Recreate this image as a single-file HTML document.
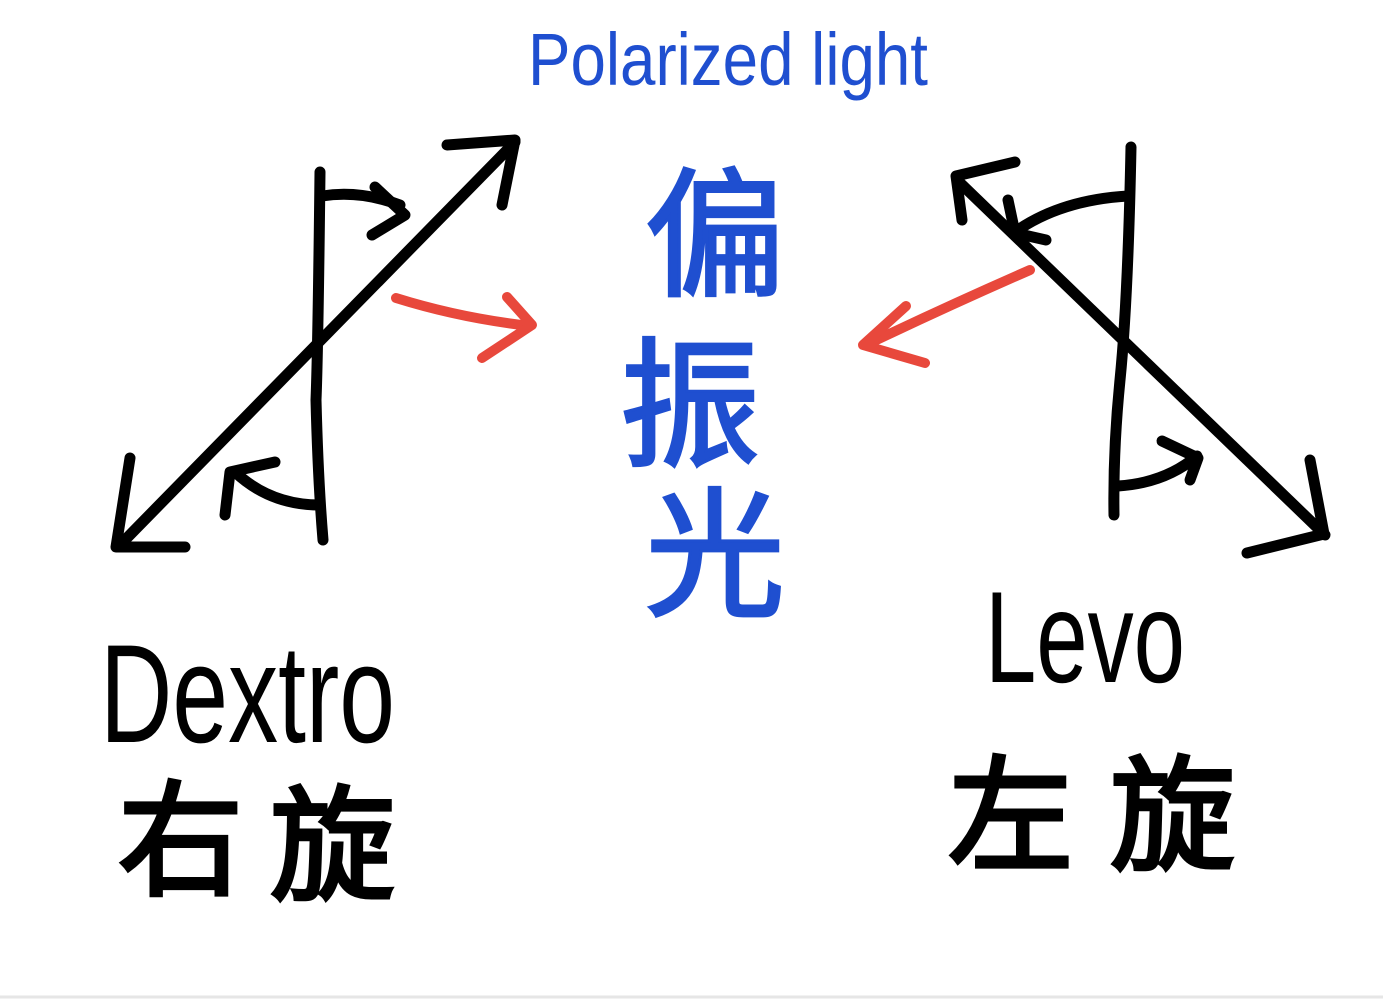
<!DOCTYPE html>
<html><head><meta charset="utf-8"><style>
html,body{margin:0;padding:0;background:#fff;width:1383px;height:1001px;overflow:hidden}
svg{display:block}
</style></head><body>
<svg width="1383" height="1001" viewBox="0 0 1383 1001" xmlns="http://www.w3.org/2000/svg">
<rect width="1383" height="1001" fill="#fff"/>
<line x1="0" y1="997" x2="1383" y2="997" stroke="#e6e6e6" stroke-width="3"/>
<g fill="none" stroke="#000" stroke-width="11" stroke-linecap="round" stroke-linejoin="round">
 <path d="M320 172 Q318 350 316 400 Q318 480 323 540"/>
 <path d="M120 545 L515 142"/>
 <path d="M447 145 L515 140 L502 205"/>
 <path d="M130 458 L116 547 L185 547"/>
 <path d="M322 196 Q360 190 400 205"/>
 <path d="M375 187 L405 215 L372 235"/>
 <path d="M320 505 Q270 505 235 472"/>
 <path d="M225 515 L230 472 L275 462"/>
 <path d="M1131 147 Q1128 300 1120 380 Q1113 450 1114 515"/>
 <path d="M957 180 L1325 535"/>
 <path d="M1015 162 L956 176 L962 220"/>
 <path d="M1310 460 L1324 534 L1247 553"/>
 <path d="M1128 196 Q1060 200 1015 232"/>
 <path d="M1008 200 L1015 233 L1046 240"/>
 <path d="M1118 486 Q1165 483 1197 456"/>
 <path d="M1162 441 L1198 458 L1190 480"/>
</g>
<g fill="none" stroke="#e8483c" stroke-width="10" stroke-linecap="round" stroke-linejoin="round">
 <path d="M396 298 Q460 318 530 326"/>
 <path d="M507 297 L532 325 L482 358"/>
 <path d="M1030 270 Q950 305 866 345"/>
 <path d="M906 306 L863 345 L925 363"/>
</g>
<text x="528" y="85" font-family="Liberation Sans, sans-serif" font-size="74" fill="#1f4fd0" textLength="400" lengthAdjust="spacingAndGlyphs">Polarized light</text>
<g font-family="Liberation Sans, 'Noto Sans CJK SC', sans-serif" font-size="140" fill="#1f4fd0" stroke="#1f4fd0" stroke-width="3">
 <text x="645" y="285">偏</text>
 <text x="620" y="455">振</text>
 <text x="645" y="605">光</text>
</g>
<text x="100" y="742" font-family="Liberation Sans, sans-serif" font-size="140" fill="#000" textLength="295" lengthAdjust="spacingAndGlyphs">Dextro</text>
<text x="985" y="682" font-family="Liberation Sans, sans-serif" font-size="130" fill="#000" textLength="200" lengthAdjust="spacingAndGlyphs">Levo</text>
<g font-family="Liberation Sans, 'Noto Sans CJK SC', sans-serif" font-size="125" fill="#000" stroke="#000" stroke-width="4">
 <text x="118" y="885">右</text>
 <text x="270" y="890">旋</text>
 <text x="948" y="860">左</text>
 <text x="1110" y="860">旋</text>
</g>
</svg>
</body></html>
